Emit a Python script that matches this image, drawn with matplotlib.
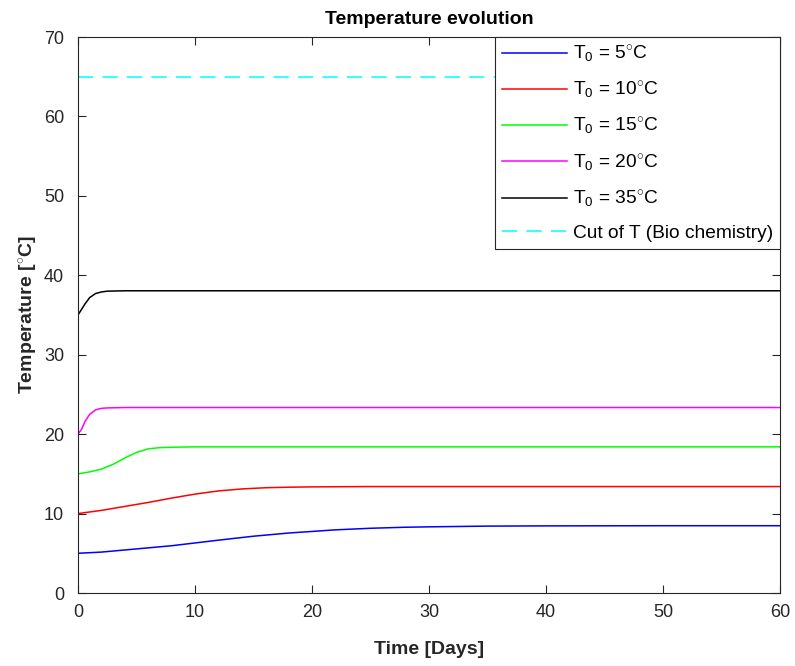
import numpy as np
import matplotlib.pyplot as plt

plt.rcParams['font.family'] = ['Liberation Sans', 'DejaVu Sans']
plt.rcParams['mathtext.fontset'] = 'custom'
plt.rcParams['mathtext.rm'] = 'Liberation Sans'
plt.rcParams['mathtext.it'] = 'Liberation Sans:italic'

# values (days, deg C)
t_blue = [0, 2, 5, 8, 10, 12, 15, 18, 20, 22, 25, 28, 30, 35, 40, 50, 60]
T_blue = [5.0, 5.15, 5.55, 5.95, 6.3, 6.65, 7.15, 7.55, 7.75, 7.95, 8.15, 8.28, 8.33, 8.42, 8.45, 8.47, 8.47]

t_red = [0, 2, 4, 6, 8, 10, 12, 14, 16, 18, 20, 25, 30, 60]
T_red = [10.0, 10.4, 10.9, 11.4, 11.95, 12.45, 12.85, 13.1, 13.25, 13.32, 13.36, 13.4, 13.4, 13.4]

t_green = [0, 1, 2, 3, 4, 5, 6, 7, 8, 10, 60]
T_green = [15.0, 15.25, 15.6, 16.2, 17.0, 17.7, 18.15, 18.3, 18.35, 18.4, 18.4]

t_mag = [0, 0.3, 0.6, 1, 1.5, 2, 2.5, 4, 60]
T_mag = [20.0, 20.6, 21.6, 22.5, 23.05, 23.25, 23.3, 23.35, 23.35]

t_blk = [0, 0.3, 0.6, 1, 1.5, 2, 2.5, 4, 60]
T_blk = [35.0, 35.7, 36.4, 37.2, 37.7, 37.9, 38.0, 38.05, 38.05]

t_cut = [0, 60]
T_cut = [65, 65]

labels = [r'T$_0$ = 5$^{\circ}$C', r'T$_0$ = 10$^{\circ}$C', r'T$_0$ = 15$^{\circ}$C',
          r'T$_0$ = 20$^{\circ}$C', r'T$_0$ = 35$^{\circ}$C', 'Cut of T (Bio chemistry)']

fig = plt.figure(figsize=(7.95, 6.66), dpi=100)
ax = fig.add_axes([78/795, 73/666, 702/795, 556/666])

lw = 1.1
ax.plot(t_blue, T_blue, color='#0000ff', lw=lw, label=labels[0])
ax.plot(t_red, T_red, color='#ff0000', lw=lw, label=labels[1])
ax.plot(t_green, T_green, color='#00ff00', lw=lw, label=labels[2])
ax.plot(t_mag, T_mag, color='#ff00ff', lw=lw, label=labels[3])
ax.plot(t_blk, T_blk, color='#000000', lw=lw, label=labels[4])
ax.plot(t_cut, T_cut, color='#00ffff', lw=lw, ls=(0, (10, 6)), label=labels[5])

ax.set_xlim(0, 60)
ax.set_ylim(0, 70)
ax.set_xticks(np.arange(0, 61, 10))
ax.set_yticks(np.arange(0, 71, 10))
ax.tick_params(direction='in', top=True, right=True, labelsize=13,
               colors='#262626', length=6, width=0.8)
ax.tick_params(axis='x', pad=8)
ax.tick_params(axis='y', pad=10)
for s in ax.spines.values():
    s.set_color('#262626')
    s.set_linewidth(0.8)

ax.set_xlabel('Time [Days]', fontsize=14, fontweight='bold', color='#262626', labelpad=14)
ax.set_ylabel('Temperature [$^{\\circ}$C]', fontsize=14, fontweight='bold', color='#262626', labelpad=3)
ax.set_title('Temperature evolution', fontsize=14, fontweight='bold', color='black', pad=9)

leg = ax.legend(loc='upper right', borderaxespad=0, fancybox=False, framealpha=1,
                edgecolor='#262626', fontsize=13.8, handlelength=3.4, handletextpad=0.3,
                labelspacing=0.78, borderpad=0.35)
leg.get_frame().set_linewidth(0.8)

fig.savefig('out.png', dpi=100)
